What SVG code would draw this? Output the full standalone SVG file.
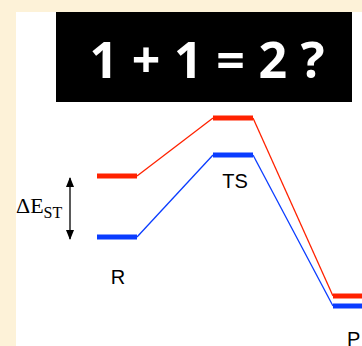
<svg xmlns="http://www.w3.org/2000/svg" width="362" height="346" viewBox="0 0 362 346">
<defs>
<marker id="ah" viewBox="0 0 10 10" refX="9" refY="5" markerWidth="10" markerHeight="10" markerUnits="userSpaceOnUse" orient="auto-start-reverse">
<path d="M0,1 L10,5 L0,9 Z" fill="#000"/>
</marker>
</defs>
<style>
.lvlR{stroke:#ff2200;stroke-width:5;fill:none}
.lvlB{stroke:#0a3cff;stroke-width:5;fill:none}
.conR{stroke:#ff2200;stroke-width:1.3;fill:none}
.conB{stroke:#0a3cff;stroke-width:1.3;fill:none}
.lab{font-family:"Liberation Sans",Arial,sans-serif;font-size:20px;fill:#000}
</style>
<rect x="0" y="0" width="362" height="346" fill="#fdf2d8"/>
<rect x="16" y="12" width="346" height="334" fill="#fff"/>
<g id="title">
<rect x="56" y="12" width="296" height="90" fill="#000"/>
<text x="207" y="78" text-anchor="middle" font-family="'Open Sans',sans-serif" font-weight="bold" font-size="50" fill="#fff" textLength="235" lengthAdjust="spacing">1 + 1 = 2 ?</text>
</g>
<g id="connectors">
<polyline class="conR" points="137,176 213,118"/>
<polyline class="conR" points="253,118 333,296"/>
<polyline class="conB" points="137,237 213,155"/>
<polyline class="conB" points="253,155 333,306"/>
<line x1="70" y1="178" x2="70" y2="239" stroke="#000" stroke-width="1.3" marker-start="url(#ah)" marker-end="url(#ah)"/>
</g>
<g id="R">
<line class="lvlR" x1="97" y1="176" x2="137" y2="176"/>
<line class="lvlB" x1="97" y1="237" x2="137" y2="237"/>
<text class="lab" x="118" y="284" text-anchor="middle">R</text>
</g>
<g id="TS">
<line class="lvlR" x1="213" y1="118" x2="253" y2="118"/>
<line class="lvlB" x1="213" y1="155" x2="253" y2="155"/>
<text class="lab" x="235" y="188" text-anchor="middle">TS</text>
</g>
<g id="P">
<line class="lvlR" x1="333" y1="296" x2="362" y2="296"/>
<line class="lvlB" x1="333" y1="306" x2="362" y2="306"/>
<text class="lab" x="347" y="346">P</text>
</g>
<g id="dEST">
<text x="16" y="213" font-family="'Liberation Serif','Times New Roman',serif" font-size="22" fill="#000">ΔE<tspan font-size="16" dy="5">ST</tspan></text>
</g>
</svg>
